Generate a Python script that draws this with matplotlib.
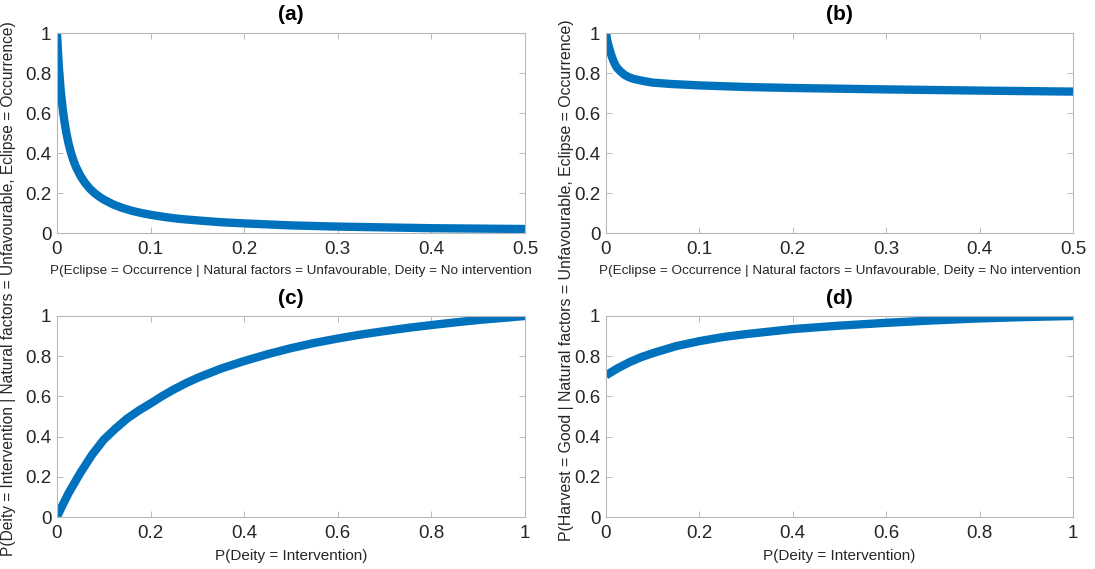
import numpy as np
import matplotlib
matplotlib.use("Agg")
import matplotlib.pyplot as plt

# values
xa = [0.0, 0.001, 0.002, 0.003, 0.004, 0.005, 0.0065, 0.008, 0.01, 0.0125, 0.015,
      0.0175, 0.02, 0.025, 0.03, 0.035, 0.04, 0.045, 0.05, 0.06, 0.07, 0.08, 0.09,
      0.1, 0.115, 0.13, 0.15, 0.175, 0.2, 0.25, 0.3, 0.35, 0.4, 0.45, 0.5]
ya = [1.0, 0.91, 0.83, 0.77, 0.71, 0.667, 0.606, 0.556, 0.50, 0.444, 0.40,
      0.364, 0.333, 0.286, 0.25, 0.222, 0.20, 0.182, 0.167, 0.143, 0.125, 0.111, 0.10,
      0.091, 0.080, 0.071, 0.063, 0.054, 0.048, 0.038, 0.032, 0.028, 0.024, 0.022, 0.020]

xb = [0.0, 0.001, 0.002, 0.004, 0.006, 0.008, 0.01, 0.012, 0.015, 0.02, 0.025,
      0.03, 0.04, 0.05, 0.07, 0.1, 0.15, 0.2, 0.3, 0.4, 0.5]
yb = [1.0, 0.97, 0.95, 0.915, 0.885, 0.86, 0.84, 0.825, 0.81, 0.79, 0.778,
      0.77, 0.76, 0.752, 0.745, 0.738, 0.73, 0.725, 0.718, 0.712, 0.707]

xc = [0.0, 0.01, 0.025, 0.05, 0.075, 0.1, 0.125, 0.15, 0.175, 0.2, 0.225, 0.25,
      0.275, 0.3, 0.35, 0.4, 0.45, 0.5, 0.55, 0.6, 0.65, 0.7, 0.75, 0.8, 0.85,
      0.9, 0.95, 1.0]
yc = [0.0, 0.05, 0.12, 0.22, 0.31, 0.385, 0.44, 0.49, 0.53, 0.565, 0.602, 0.635,
      0.665, 0.692, 0.738, 0.776, 0.81, 0.84, 0.866, 0.888, 0.908, 0.925, 0.941,
      0.955, 0.968, 0.98, 0.99, 1.0]

xd = [0.0, 0.025, 0.05, 0.075, 0.1, 0.15, 0.2, 0.25, 0.3, 0.4, 0.5, 0.6, 0.7,
      0.8, 0.9, 1.0]
yd = [0.705, 0.74, 0.77, 0.795, 0.815, 0.85, 0.875, 0.895, 0.91, 0.935, 0.952,
      0.966, 0.978, 0.988, 0.995, 1.0]

xlab_top = "P(Eclipse = Occurrence | Natural factors = Unfavourable, Deity = No intervention"
xlab_bot = "P(Deity = Intervention)"
ylab_left = "P(Deity = Intervention | Natural factors = Unfavourable, Eclipse = Occurrence)"
ylab_right = "P(Harvest = Good | Natural factors = Unfavourable, Eclipse = Occurrence)"

plt.rcParams["font.family"] = ["Liberation Sans", "DejaVu Sans"]
BLUE = "#0072BD"
W, H = 1095, 569

fig = plt.figure(figsize=(W / 100, H / 100), dpi=100)


def px_axes(x0, x1, y0, y1):
    return fig.add_axes([x0 / W, 1 - y1 / H, (x1 - x0) / W, (y1 - y0) / H])


panels = [
    (px_axes(57, 525, 33, 233), xa, ya, 0.5, "(a)", xlab_top, 9.7),
    (px_axes(606, 1073, 33, 233), xb, yb, 0.5, "(b)", xlab_top, 9.7),
    (px_axes(57, 525, 316, 517), xc, yc, 1.0, "(c)", xlab_bot, 11),
    (px_axes(606, 1073, 316, 517), xd, yd, 1.0, "(d)", xlab_bot, 11),
]

for ax, x, y, xmax, title, xlab, xfs in panels:
    ax.plot(x, y, color=BLUE, lw=6, solid_capstyle="butt", solid_joinstyle="round")
    ax.set_xlim(0, xmax)
    ax.set_ylim(0, 1)
    ax.set_xticks(np.linspace(0, xmax, 6))
    ax.set_xticklabels(["0", "0.1", "0.2", "0.3", "0.4", "0.5"] if xmax == 0.5
                       else ["0", "0.2", "0.4", "0.6", "0.8", "1"])
    ax.set_yticks([0, 0.2, 0.4, 0.6, 0.8, 1])
    ax.set_yticklabels(["0", "0.2", "0.4", "0.6", "0.8", "1"])
    ax.tick_params(direction="in", length=4, width=0.6, color="#b0b0b0",
                   labelcolor="#262626", labelsize=13.5, top=True, right=True)
    ax.tick_params(axis="x", pad=6)
    ax.tick_params(axis="y", pad=4)
    for s in ax.spines.values():
        s.set_color("#b8b8b8")
        s.set_linewidth(0.8)
    ax.set_title(title, fontsize=15, fontweight="bold", color="black", pad=9)
    ax.set_xlabel(xlab, fontsize=xfs, color="#262626", labelpad=5)

fig.text(9 / W, 1 - 556 / H, ylab_left, rotation=90, ha="center", va="bottom",
         fontsize=11.2, color="#262626")
fig.text(567 / W, 1 - 541 / H, ylab_right, rotation=90, ha="center", va="bottom",
         fontsize=11.4, color="#262626")

fig.savefig("out.png", dpi=100, facecolor="white")
